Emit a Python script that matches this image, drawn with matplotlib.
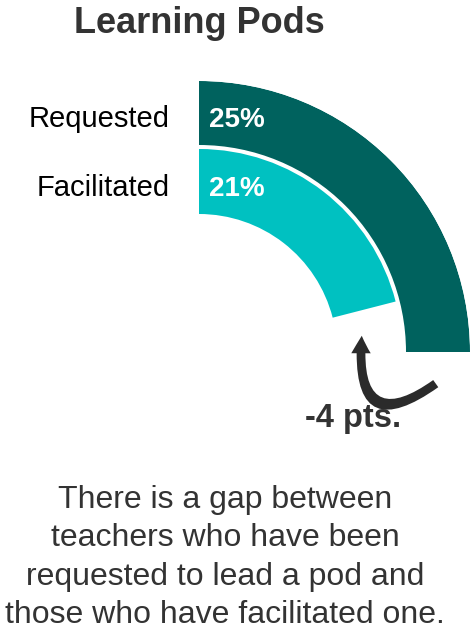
import numpy as np
import matplotlib
matplotlib.use("Agg")
import matplotlib.pyplot as plt
from matplotlib.patches import FancyArrowPatch

plt.rcParams["font.family"] = ["Liberation Sans", "DejaVu Sans"]

# ── Data ──────────────────────────────────────────────────────────────
categories = ["Requested", "Facilitated"]
values = [25, 21]            # percent
value_labels = ["25%", "21%"]
scale_max = 25               # value that fills the quarter circle
gap_label = "-4 pts."
title = "Learning Pods"
caption = [
    "There is a gap between",
    "teachers who have been",
    "requested to lead a pod and",
    "those who have facilitated one.",
]

colors = ["#00625E", "#00C1C1"]

# ── Layout (pixels) ───────────────────────────────────────────────────
W, H = 474, 630
cx, cy, R = 199, 352, 271            # centre and outer radius of the rings
ring_bottom = [207, 138]
ring_height = [64, 65]

fig = plt.figure(figsize=(W / 100, H / 100), dpi=100)

# polar axes for the rings
pax = fig.add_axes([(cx - R) / W, (H - cy - R) / H, 2 * R / W, 2 * R / H],
                   projection="polar")
pax.set_theta_zero_location("N")
pax.set_theta_direction(-1)
for val, b, h, c in zip(values, ring_bottom, ring_height, colors):
    pax.bar(0, h, width=np.deg2rad(val / scale_max * 90), bottom=b,
            align="edge", color=c, edgecolor="none")
pax.set_ylim(0, R)
pax.set_axis_off()

# overlay axes in pixel coordinates for text and the arrow
ax = fig.add_axes([0, 0, 1, 1])
ax.set_xlim(0, W)
ax.set_ylim(H, 0)
ax.set_axis_off()
ax.patch.set_alpha(0)

ax.text(199, 33, title, ha="center", va="baseline", fontsize=26,
        fontweight="bold", color="#333333")

for i, (cat, lab) in enumerate(zip(categories, value_labels)):
    base = 127 + i * 69
    ax.text(170, base, cat, ha="right", va="baseline", fontsize=21, color="black")
    ax.text(209, base, lab, ha="left", va="baseline", fontsize=20,
            fontweight="bold", color="white")

# curved "gap" arrow from the outer ring end back up to the inner ring end
arrow = FancyArrowPatch((438, 382), (362, 333),
                        connectionstyle="angle3,angleA=36,angleB=85",
                        arrowstyle="simple,head_length=0.9,head_width=1.0,tail_width=0.45",
                        mutation_scale=14, color="#2b2b2b", lw=0)
ax.add_patch(arrow)

ax.text(305, 427, gap_label, ha="left", va="baseline", fontsize=23.5,
        fontweight="bold", color="#333333")

for i, line in enumerate(caption):
    ax.text(225, 508 + i * 38.3, line, ha="center", va="baseline",
            fontsize=23, color="#333333")

fig.savefig("out.png", dpi=100)
